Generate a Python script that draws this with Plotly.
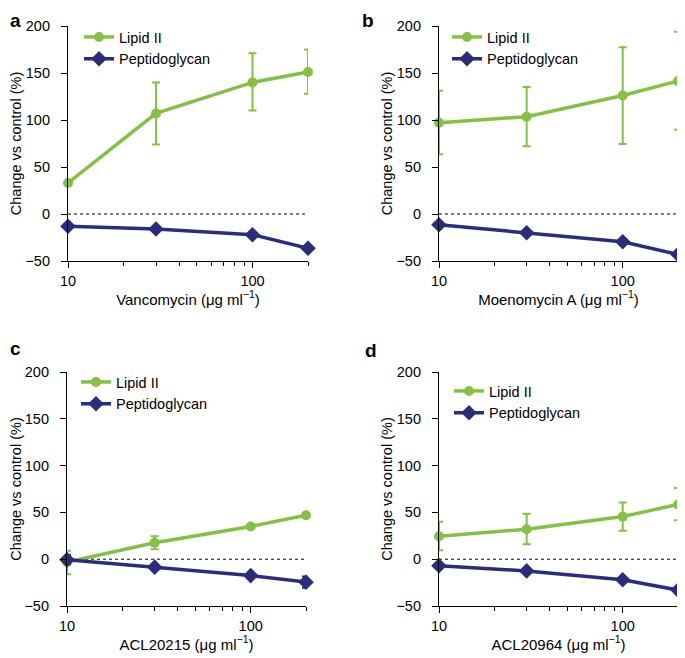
import plotly.graph_objects as go

# ---------------- data ----------------
conc = [10, 30, 100, 200]

a_lipid = [33, 107, 140, 151]
a_lipid_hi = [0, 33, 31, 24]
a_lipid_lo = [0, 33, 30, 23]
a_pg = [-13, -16, -22, -36.5]

b_lipid = [97, 103.5, 126, 141.5]
b_lipid_hi = [34, 31.5, 51.5, 52.5]
b_lipid_lo = [33.5, 31.5, 51.5, 52]
b_pg = [-11.5, -20, -29.5, -43]

c_lipid = [-3, 17.5, 35, 47]
c_lipid_hi = [12, 7, 0, 0]
c_lipid_lo = [13, 7, 0, 0]
c_pg = [-0.5, -8.5, -17.5, -24.5]
c_pg_err = [5, 0, 0, 6]

d_lipid = [24.5, 32, 45.5, 58.5]
d_lipid_hi = [15.5, 16.5, 15, 17.5]
d_lipid_lo = [15, 16, 15, 17]
d_pg = [-7, -12.5, -22, -33]
d_pg_err = [0, 0, 0, 2.5]

panel_letters = ["a", "b", "c", "d"]
x_titles = ["Vancomycin (μg ml<sup>−1</sup>)", "Moenomycin A (μg ml<sup>−1</sup>)",
            "ACL20215 (μg ml<sup>−1</sup>)", "ACL20964 (μg ml<sup>−1</sup>)"]
y_title = "Change vs control (%)"
series_names = ["Lipid II", "Peptidoglycan"]
x_tickvals = [10, 100]
x_minor = [20, 30, 40, 50, 60, 70, 80, 90, 200]
y_tickvals = [-50, 0, 50, 100, 150, 200]

GREEN = "#84C044"
NAVY = "#2B2C7C"
OFF = 8  # page body margin of the browser
W, H = 685 - OFF, 658 - OFF
FONT = "Liberation Sans, Arial, Helvetica, sans-serif"

# panel pixel boxes in window coords: (left, right, top, bottom)
boxes = [(68, 308, 26, 261), (439, 678, 26, 261),
         (67, 306, 372, 606), (439, 678, 372, 606)]
legend_pos = [(79, 21), (447, 21), (76, 366), (449, 375)]
letter_pos = [(8, 8), (360, 8), (8, 336), (363, 338)]

panels = [
    (a_lipid, a_lipid_hi, a_lipid_lo, a_pg, None),
    (b_lipid, b_lipid_hi, b_lipid_lo, b_pg, None),
    (c_lipid, c_lipid_hi, c_lipid_lo, c_pg, c_pg_err),
    (d_lipid, d_lipid_hi, d_lipid_lo, d_pg, d_pg_err),
]


def px(x):
    return (x - OFF) / W


def py(y):
    return 1 - (y - OFF) / H


fig = go.Figure()
layout = dict(width=W, height=H, margin=dict(l=0, r=0, t=0, b=0, autoexpand=False),
              plot_bgcolor="white", paper_bgcolor="white",
              font=dict(family=FONT, color="black", size=14),
              annotations=[], shapes=[])

for i, (lip, hi, lo, pg, pgerr) in enumerate(panels):
    n = "" if i == 0 else str(i + 1)
    xa, ya = "x" + n, "y" + n
    leg = "legend" + n
    fig.add_trace(go.Scatter(
        x=conc, y=lip, mode="lines+markers", name=series_names[0],
        xaxis=xa, yaxis=ya, legend=leg,
        line=dict(color=GREEN, width=3.5),
        marker=dict(symbol="circle", size=10, color=GREEN),
        error_y=dict(type="data", array=hi, arrayminus=lo, color=GREEN,
                     thickness=2, width=4, visible=True),
        cliponaxis=False))
    pg_err = dict(type="data", array=pgerr, color=NAVY, thickness=2,
                  width=4, visible=True) if pgerr else None
    fig.add_trace(go.Scatter(
        x=conc, y=pg, mode="lines+markers", name=series_names[1],
        xaxis=xa, yaxis=ya, legend=leg,
        line=dict(color=NAVY, width=3.5),
        marker=dict(symbol="diamond", size=12, color=NAVY),
        error_y=pg_err, cliponaxis=False))

    l, r, t, b = boxes[i]
    layout["xaxis" + n] = dict(
        type="log", range=[1, 2.30103], domain=[px(l), min(px(r), 1)], anchor=ya,
        automargin=False,
        showline=True, linecolor="black", linewidth=1.2, mirror=False,
        showgrid=False, zeroline=False,
        tickmode="array", tickvals=x_tickvals,
        ticks="outside", ticklen=6, tickwidth=1.2, tickcolor="black",
        ticklabelstandoff=0,
        tickfont=dict(size=14.5),
        minor=dict(tickmode="array", tickvals=x_minor, ticks="outside",
                   ticklen=4, tickwidth=1, tickcolor="black", showgrid=False),
        title=dict(text=x_titles[i], font=dict(size=15), standoff=4))
    layout["yaxis" + n] = dict(
        range=[-50, 200], domain=[py(b), py(t)], anchor=xa,
        automargin=False,
        showline=True, linecolor="black", linewidth=1.2,
        showgrid=False, zeroline=False,
        tickmode="array", tickvals=y_tickvals,
        ticks="outside", ticklen=6, tickwidth=1.2, tickcolor="black",
        ticklabelstandoff=8,
        tickfont=dict(size=14.5),
        title=dict(text=y_title, font=dict(size=14.5), standoff=0))
    lx, ly = legend_pos[i]
    layout[leg] = dict(x=px(lx), y=py(ly), xref="paper", yref="paper",
                       xanchor="left", yanchor="top",
                       bgcolor="rgba(0,0,0,0)", borderwidth=0,
                       font=dict(size=14.5), itemwidth=30,
                       tracegroupgap=0)
    # dotted zero line
    layout["shapes"].append(dict(
        type="line", xref=xa + " domain", yref=ya, x0=0, x1=1, y0=0, y1=0,
        line=dict(color="black", width=1, dash="dot"), layer="below"))
    # panel letter
    lx0, ly0 = letter_pos[i]
    layout["annotations"].append(dict(
        text="<b>" + panel_letters[i] + "</b>", xref="paper", yref="paper",
        x=px(lx0), y=py(ly0), xanchor="left", yanchor="top",
        showarrow=False, font=dict(size=19, color="black")))

fig.update_layout(**layout)
fig.write_html("out.html")
